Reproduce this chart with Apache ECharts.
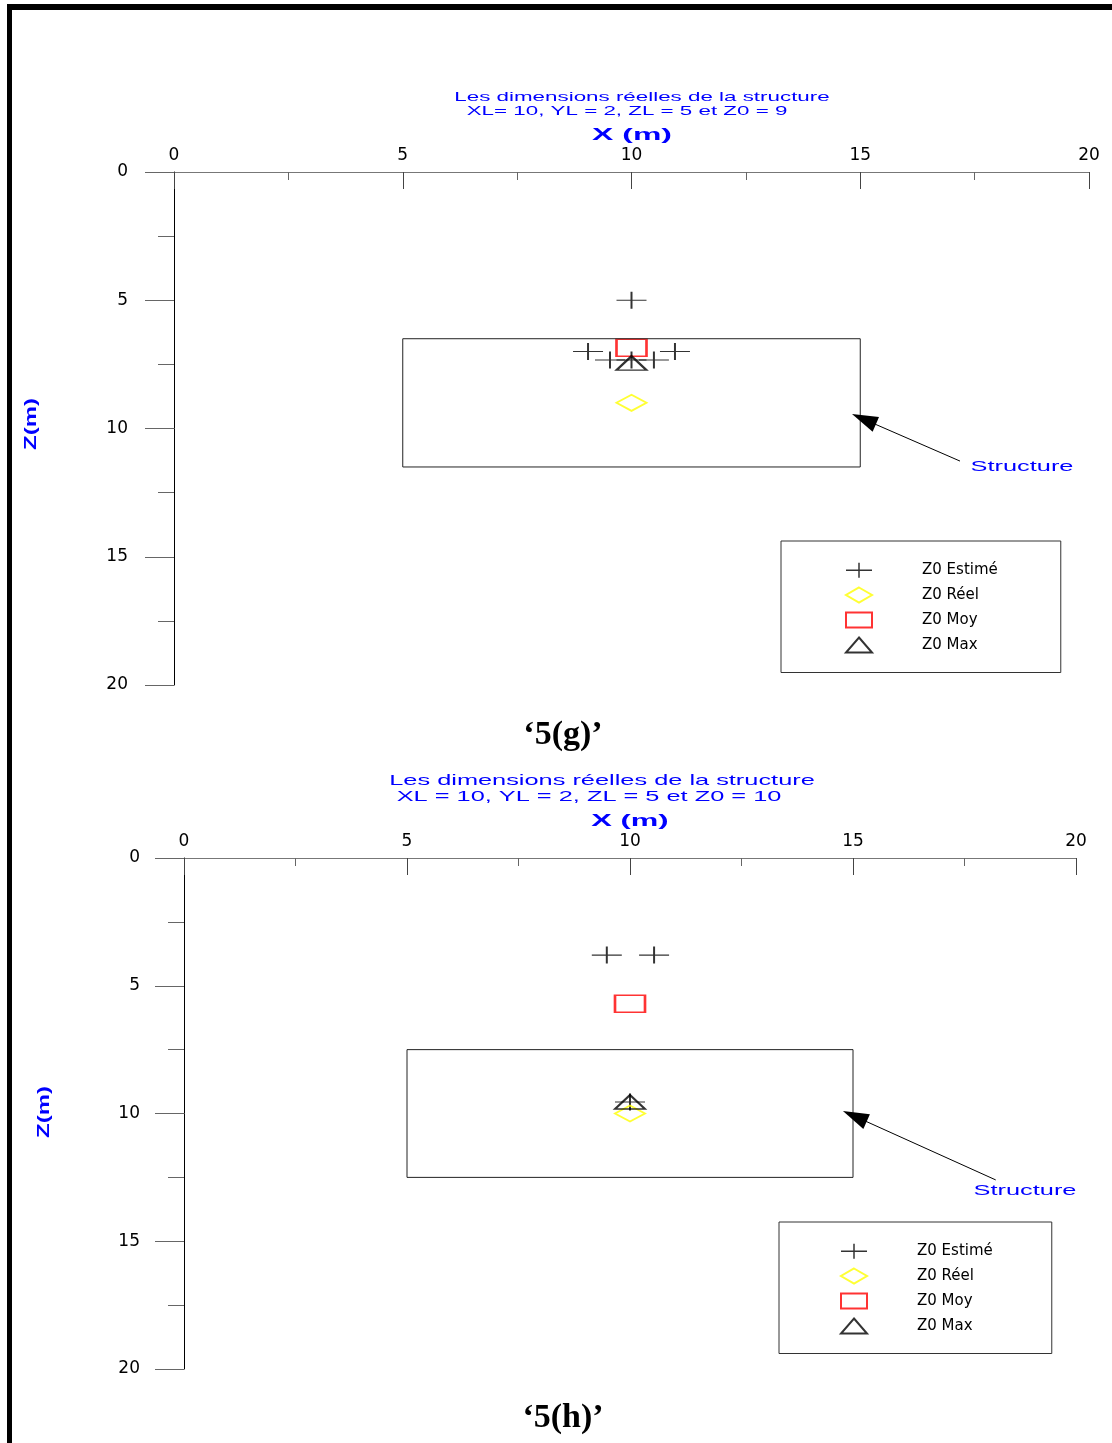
<!DOCTYPE html>
<html><head><meta charset="utf-8">
<script src="https://cdn.jsdelivr.net/npm/echarts@6/dist/echarts.min.js"></script>
<style>html,body{margin:0;padding:0;background:#fff}#c{width:1112px;height:1443px}</style>
</head><body><div id="c"></div>
<script>
// ---- data ----
const seriesNames = ['Z0 Estimé', 'Z0 Réel', 'Z0 Moy', 'Z0 Max'];
const axisMin = 0, axisMax = 20, axisStep = 5;

// chart '5(g)'
const estimeG = [[10, 5], [9.05, 7.0], [10.95, 7.0], [9.53, 7.33], [10, 7.33], [10.49, 7.33]];
const reelG = [[10, 9]];
const moyG = [[10, 6.85]];
const maxG = [[10, 7.45]];
const structureG = [[5, 6.5], [15, 6.5], [15, 11.5], [5, 11.5], [5, 6.5]];
const arrowG = [[17.18, 11.27], [15.08, 9.64]];

// chart '5(h)'
const estimeH = [[9.48, 3.8], [10.54, 3.8], [10, 9.55]];
const reelH = [[10, 10]];
const moyH = [[10, 5.7]];
const maxH = [[10, 9.55]];
const structureH = [[5, 7.5], [15, 7.5], [15, 12.5], [5, 12.5], [5, 7.5]];
const arrowH = [[18.2, 12.6], [15.04, 10.11]];

const titlesG = ['Les dimensions réelles de la structure', 'XL= 10, YL = 2, ZL = 5 et Z0 = 9'];
const titlesH = ['Les dimensions réelles de la structure', 'XL = 10, YL = 2, ZL = 5 et Z0 = 10'];

// ---- styles ----
const PLUS = 'path://M0,50L100,50M50,0L50,100';
const T = 'rgba(0,0,0,0)';
const BLUE = '#0000ff';
const symStyles = [
  { symbol: PLUS, itemStyle: { color: T, borderColor: '#000', borderWidth: 1.5 } },
  { symbol: 'diamond', itemStyle: { color: T, borderColor: '#ffff00', borderWidth: 2 } },
  { symbol: 'rect', itemStyle: { color: T, borderColor: '#ff0000', borderWidth: 2 } },
  { symbol: 'triangle', itemStyle: { color: T, borderColor: '#000', borderWidth: 2 } }
];
const symSizes = [[30, 17], [30, 16], [30, 17], [30, 14]];

function makeSeries(gi, sets, structure, arrow) {
  const out = [{
    name: 'Structure', type: 'line', xAxisIndex: gi, yAxisIndex: gi,
    data: structure, symbol: 'none', silent: true, animation: false,
    lineStyle: { color: '#222', width: 1 },
    markLine: {
      silent: true, animation: false,
      symbol: ['none', 'triangle'], symbolSize: [16, 26],
      lineStyle: { color: '#000', width: 1, type: 'solid' },
      itemStyle: { color: '#000' },
      label: { show: false },
      data: [[{ coord: arrow[0] }, { coord: arrow[1] }]]
    }
  }];
  sets.forEach((d, i) => {
    out.push({
      name: seriesNames[i], type: 'scatter', xAxisIndex: gi, yAxisIndex: gi,
      data: d, symbol: symStyles[i].symbol, symbolSize: symSizes[i],
      symbolKeepAspect: false, itemStyle: symStyles[i].itemStyle,
      silent: true, animation: false
    });
  });
  return out;
}

function makeX(gi) {
  return {
    type: 'value', gridIndex: gi, position: 'top', min: axisMin, max: axisMax, interval: axisStep,
    axisLine: { show: true, onZero: false, lineStyle: { color: '#777', width: 1 } },
    axisTick: { show: true, inside: true, length: 17, lineStyle: { color: '#444' } },
    minorTick: { show: true, splitNumber: 2, length: 8, lineStyle: { color: '#666' } },
    axisLabel: { margin: 8, fontFamily: 'DejaVu Sans', fontSize: 17, color: '#000' },
    splitLine: { show: false }, minorSplitLine: { show: false }
  };
}
function makeY(gi, margin) {
  return {
    type: 'value', gridIndex: gi, inverse: true, min: axisMin, max: axisMax, interval: axisStep,
    axisLine: { show: true, onZero: false, lineStyle: { color: '#000', width: 1 } },
    axisTick: { show: true, inside: false, length: 29, lineStyle: { color: '#666' } },
    minorTick: { show: true, splitNumber: 2, length: 16, lineStyle: { color: '#666' } },
    axisLabel: { margin: margin, fontFamily: 'DejaVu Sans', fontSize: 17, color: '#000' },
    splitLine: { show: false }, minorSplitLine: { show: false }
  };
}
function makeLegend(left, top, padding) {
  return {
    orient: 'vertical', left: left, top: top, padding: padding,
    itemWidth: 26, itemHeight: 15, itemGap: 8, selectedMode: false,
    symbolKeepAspect: false,
    borderColor: '#333', borderWidth: 1,
    textStyle: { fontFamily: 'DejaVu Sans', fontSize: 15, color: '#000', padding: [0, 0, 0, 45] },
    data: seriesNames.map((n, i) => ({ name: n, icon: symStyles[i].symbol, itemStyle: symStyles[i].itemStyle }))
  };
}
function txt(x, y, text, font, fill, sx, rot) {
  return { type: 'text', x: x, y: y, scaleX: sx || 1, rotation: rot || 0, silent: true,
    style: { text: text, font: font, fill: fill, align: 'center', verticalAlign: 'middle' } };
}

const chart = echarts.init(document.getElementById('c'));
chart.setOption({
  animation: false,
  backgroundColor: '#fff',
  grid: [
    { left: 174, top: 172, width: 915, height: 513, outerBoundsMode: 'none' },
    { left: 184, top: 858, width: 892, height: 511, outerBoundsMode: 'none' }
  ],
  xAxis: [makeX(0), makeX(1)],
  yAxis: [makeY(0, 46), makeY(1, 44)],
  legend: [makeLegend(781, 541, [21, 63, 19, 64]), makeLegend(779, 1222, [21, 59, 19, 61])],
  series: [].concat(
    makeSeries(0, [estimeG, reelG, moyG, maxG], structureG, arrowG),
    makeSeries(1, [estimeH, reelH, moyH, maxH], structureH, arrowH)
  ),
  graphic: [
    { type: 'rect', silent: true, shape: { x: 7, y: 4, width: 1105, height: 6 }, style: { fill: '#000' } },
    { type: 'rect', silent: true, shape: { x: 7, y: 4, width: 5, height: 1439 }, style: { fill: '#000' } },
    txt(642, 97, titlesG[0], '13px "Liberation Sans"', BLUE, 1.72),
    txt(627, 111, titlesG[1], '13px "Liberation Sans"', BLUE, 1.72),
    txt(632, 135, 'X (m)', 'bold 17px "Liberation Sans"', BLUE, 1.88),
    txt(32, 424, 'Z(m)', 'bold 16px "Liberation Sans"', BLUE, 1.5, Math.PI / 2),
    txt(1022, 467, 'Structure', '15px "Liberation Sans"', BLUE, 1.69),
    txt(563, 735, '\u20185(g)\u2019', 'bold 34px "Liberation Serif"', '#000', 1),
    txt(602, 781, titlesH[0], '15px "Liberation Sans"', BLUE, 1.69),
    txt(589, 797, titlesH[1], '15px "Liberation Sans"', BLUE, 1.69),
    txt(630, 821, 'X (m)', 'bold 17px "Liberation Sans"', BLUE, 1.82),
    txt(45, 1112, 'Z(m)', 'bold 16px "Liberation Sans"', BLUE, 1.5, Math.PI / 2),
    txt(1025, 1191, 'Structure', '15px "Liberation Sans"', BLUE, 1.69),
    txt(563, 1418, '\u20185(h)\u2019', 'bold 34px "Liberation Serif"', '#000', 1)
  ]
});
</script></body></html>
